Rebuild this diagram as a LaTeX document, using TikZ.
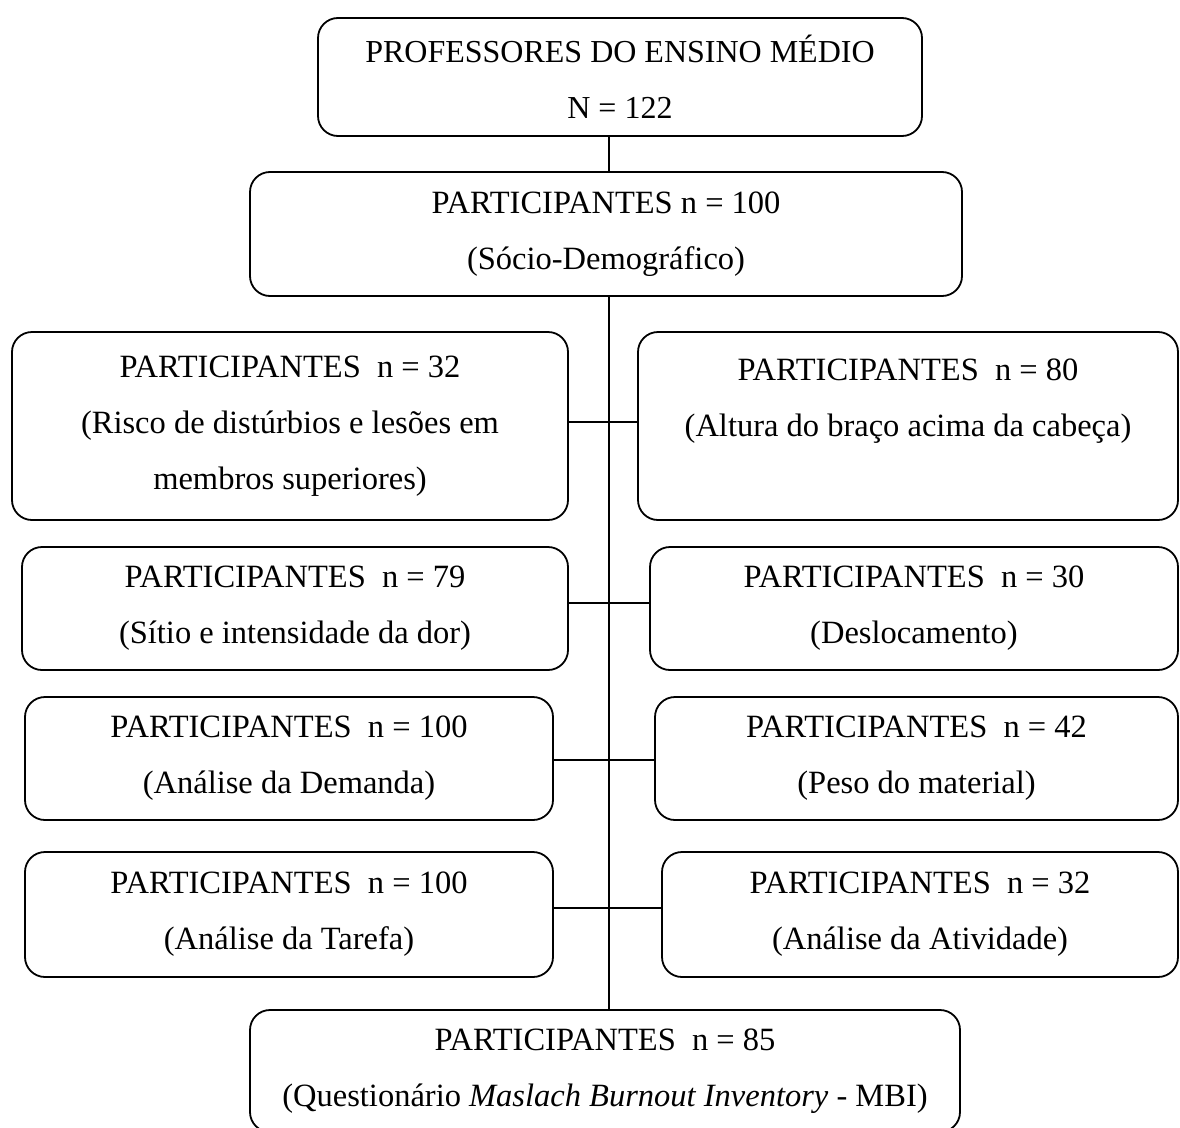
\documentclass[tikz,border=0pt]{standalone}
\usepackage{fontspec}
\setmainfont{Liberation Serif}
\begin{document}
\begin{tikzpicture}[x=1pt,y=-1pt,
  box/.style={draw,line width=1.8pt,rounded corners=20pt,align=center,
    inner sep=0pt,font=\fontsize{32.5}{56}\selectfont},
  link/.style={line width=1.8pt}]
\useasboundingbox (0,0) rectangle (1180,1127);
\coordinate (sp) at (609,0);
% header boxes
\node[box,minimum width=604pt,minimum height=118pt,font=\fontsize{32}{56}\selectfont] (top) at (620,77)
  {PROFESSORES DO ENSINO MÉDIO\\N = 122};
\node[box,minimum width=712pt,minimum height=124pt] (all) at (606,234)
  {PARTICIPANTES n = 100\\(Sócio-Demográfico)};
% left column
\node[box,minimum width=556pt,minimum height=188pt] (l1) at (290,426)
  {PARTICIPANTES\ \ n = 32\\(Risco de distúrbios e lesões em\\membros superiores)};
\node[box,minimum width=546pt,minimum height=123pt] (l2) at (295,608.5)
  {PARTICIPANTES\ \ n = 79\\(Sítio e intensidade da dor)};
\node[box,minimum width=528pt,minimum height=123pt] (l3) at (289,758.5)
  {PARTICIPANTES\ \ n = 100\\(Análise da Demanda)};
\node[box,minimum width=528pt,minimum height=125pt] (l4) at (289,914.5)
  {PARTICIPANTES\ \ n = 100\\(Análise da Tarefa)};
% right column
\node[box,minimum width=540pt,minimum height=188pt] (r1) at (908,426)
  {PARTICIPANTES\ \ n = 80\\(Altura do braço acima da cabeça)\\\mbox{}};
\node[box,minimum width=528pt,minimum height=123pt] (r2) at (914,608.5)
  {PARTICIPANTES\ \ n = 30\\(Deslocamento)};
\node[box,minimum width=523pt,minimum height=123pt] (r3) at (916.5,758.5)
  {PARTICIPANTES\ \ n = 42\\(Peso do material)};
\node[box,minimum width=516pt,minimum height=125pt] (r4) at (920,914.5)
  {PARTICIPANTES\ \ n = 32\\(Análise da Atividade)};
% final box
\node[box,minimum width=710pt,minimum height=122pt] (mbi) at (605,1071)
  {PARTICIPANTES\ \ n = 85\\(Questionário \textit{Maslach Burnout Inventory} - MBI)};
% connectors
\draw[link] (top.south -| sp) -- (all.north -| sp);
\draw[link] (all.south -| sp) -- (mbi.north -| sp);
\draw[link] ([yshift=4pt]l1.east) -- ([yshift=4pt]l1.east -| r1.west);
\draw[link] ([yshift=5.5pt]l2.east) -- ([yshift=5.5pt]l2.east -| r2.west);
\draw[link] ([yshift=-1.5pt]l3.east) -- ([yshift=-1.5pt]l3.east -| r3.west);
\draw[link] ([yshift=6.5pt]l4.east) -- ([yshift=6.5pt]l4.east -| r4.west);
\end{tikzpicture}
\end{document}
